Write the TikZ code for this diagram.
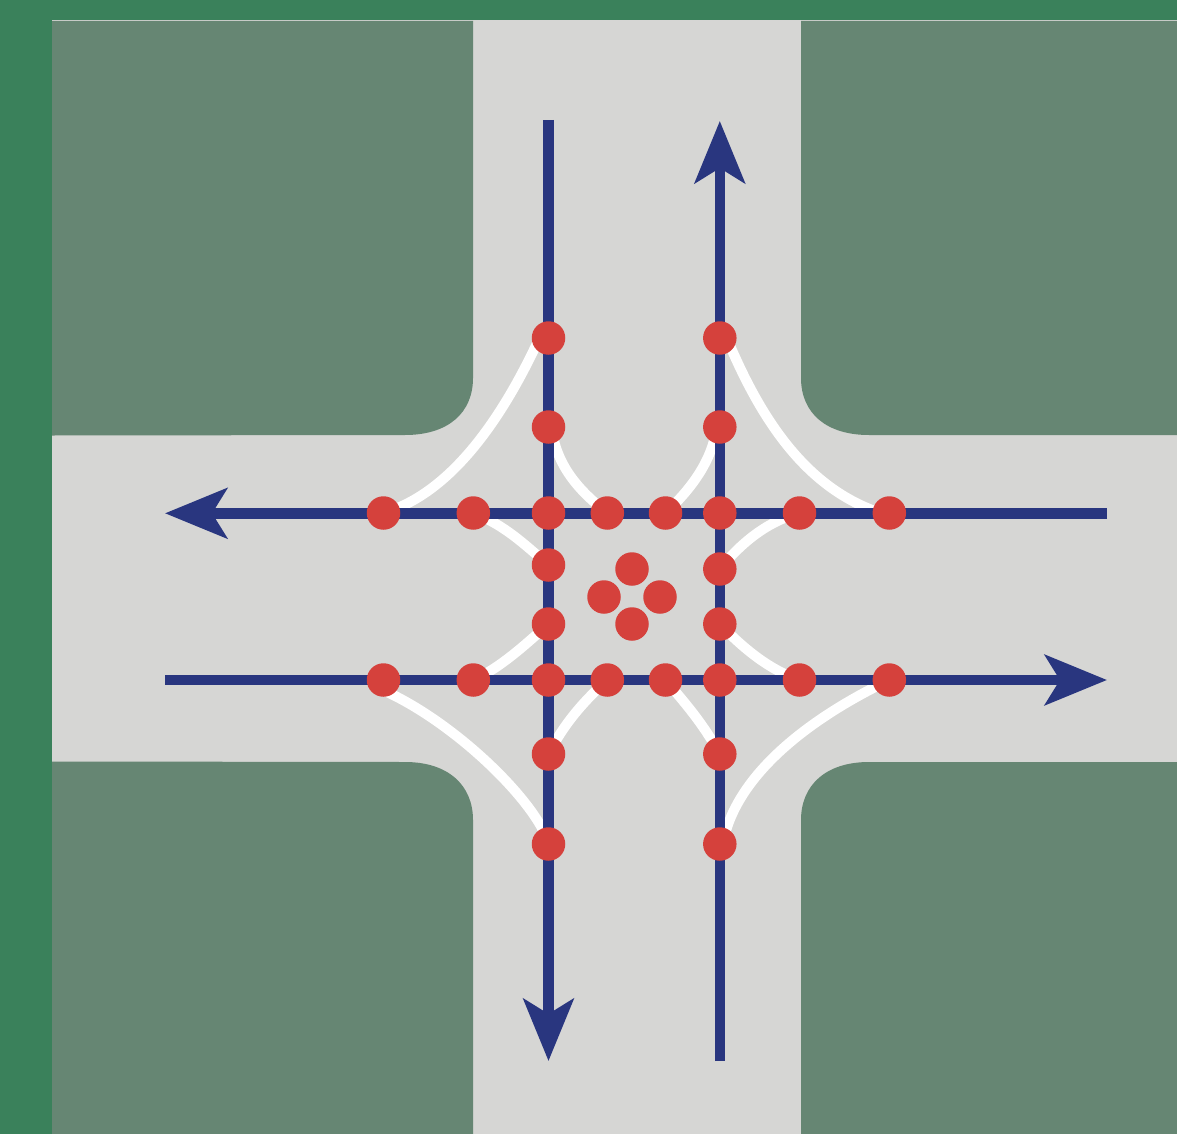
\documentclass[tikz,border=0pt]{standalone}
\usetikzlibrary{arrows.meta}
\definecolor{grass}{HTML}{3A815B}
\definecolor{blockgreen}{HTML}{668673}
\definecolor{road}{HTML}{D6D6D4}
\definecolor{lane}{HTML}{29367F}
\definecolor{conflict}{HTML}{D5413C}
\pgfdeclarelayer{under}
\pgfsetlayers{under,main}
\tikzset{
  dot/.style={circle,fill=conflict,draw=none,minimum size=33.5pt,inner sep=0pt,outer sep=0pt},
  lanepath/.style={draw=lane,line width=10.5pt},
  lanearrow/.style={lanepath,-{Stealth[length=62pt 0 0,width=50pt 0 0,inset=15pt 0 0]}},
  turn/.style={draw=white,line width=10pt},
  block/.style={fill=blockgreen,draw=none}
}
\begin{document}
\begin{tikzpicture}[x=1pt,y=-1pt]
\useasboundingbox (0,0) rectangle (1177,1134);
% named free ends
\coordinate (vlTop) at (548.5,120);
\coordinate (vlEnd) at (548.5,1061);
\coordinate (vrStart) at (719.8,1061);
\coordinate (vrEnd) at (719.8,121);
\coordinate (htStart) at (1107,513.3);
\coordinate (htEnd) at (165,513.3);
\coordinate (hbStart) at (165,680);
\coordinate (hbEnd) at (1107,680);
% conflict points
\foreach \n/\y in {1/338,2/427,3/513,4/565,5/624,6/680,7/754,8/844}
  \node[dot] (L\n) at (548.5,\y) {};
\foreach \n/\y in {1/338,2/427,3/513,4/569,5/624,6/680,7/754,8/844}
  \node[dot] (R\n) at (719.8,\y) {};
\foreach \n/\x in {1/383.5,2/473.3,4/607.3,5/665.5,7/799.5,8/889.3} {
  \node[dot] (T\n) at (\x,513) {};
  \node[dot] (B\n) at (\x,680) {};
}
\node[dot] (C1) at (632,569) {};
\node[dot] (C2) at (604,597) {};
\node[dot] (C3) at (660,597) {};
\node[dot] (C4) at (632,624) {};
\begin{pgfonlayer}{under}
  \fill[grass] (0,0) rectangle (1177,1134);
  \fill[road] (51.5,20.5) rectangle (1177,1134);
  \path[block] (52,21) -- (473,21) -- (473,378) .. controls (473,413) and (448,435) .. (405,435) -- (52,435.5) -- cycle;
  \path[block] (1177,21) -- (801,21) -- (801,378) .. controls (801,413) and (826,435) .. (869,435) -- (1177,435) -- cycle;
  \path[block] (52,1134) -- (473,1134) -- (473,820) .. controls (473,785) and (448,762) .. (405,762) -- (52,761.5) -- cycle;
  \path[block] (1177,1134) -- (801,1134) -- (801,820) .. controls (801,785) and (826,762) .. (869,762) -- (1177,762) -- cycle;
  % turning paths
  \draw[turn] (T1.center) .. controls (445,495) and (497,430) .. ([shift={(-9,0)}]L1.center);
  \draw[turn] ([shift={(-9,0)}]T8.center) .. controls (812,490) and (765,430) .. ([shift={(7,0)}]R1.center);
  \draw[turn] ([shift={(-8,7)}]B1.center) .. controls (445,715) and (525,790) .. ([shift={(-3,-9)}]L8.center);
  \draw[turn] (B8.center) .. controls (810,718) and (735,775) .. ([shift={(3,0)}]R8.center);
  \draw[turn] ([shift={(3,0)}]L2.center) .. controls (556,465) and (578,490) .. (T4.center);
  \draw[turn] ([shift={(-3,0)}]R2.center) .. controls (712,462) and (690,490) .. (T5.center);
  \draw[turn] (T2.center) .. controls (505,525) and (525,545) .. (L4.center);
  \draw[turn] (T7.center) .. controls (772,520) and (745,538) .. (R4.center);
  \draw[turn] (L5.center) .. controls (525,645) and (500,668) .. (B2.center);
  \draw[turn] (R5.center) .. controls (745,650) and (770,670) .. (B7.center);
  \draw[turn] (B4.center) .. controls (585,700) and (565,722) .. (L7.center);
  \draw[turn] (B5.center) .. controls (685,703) and (702,722) .. (R7.center);
  % lanes
  \draw[lanepath] (vlTop) -- (548.5,1000);
  \path[lanearrow] (548.5,990) -- (vlEnd);
  \draw[lanepath] (vrStart) -- (719.8,180);
  \path[lanearrow] (719.8,190) -- (vrEnd);
  \draw[lanepath] (htStart) -- (225,513.3);
  \path[lanearrow] (235,513.3) -- (htEnd);
  \draw[lanepath] (hbStart) -- (1047,680);
  \path[lanearrow] (1037,680) -- (hbEnd);
\end{pgfonlayer}
\end{tikzpicture}
\end{document}
